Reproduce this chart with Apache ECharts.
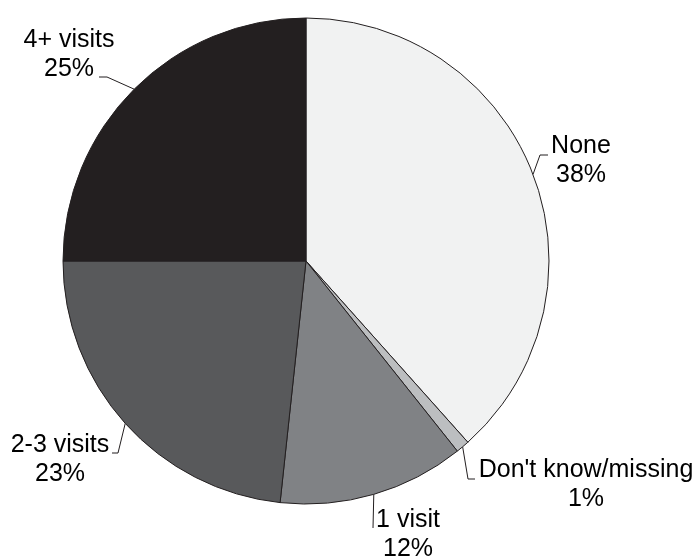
<!DOCTYPE html>
<html>
<head>
<meta charset="utf-8">
<script src="https://cdn.jsdelivr.net/npm/echarts@6/dist/echarts.min.js"></script>
<style>
  html, body { margin: 0; padding: 0; background: #ffffff; }
  #chart { width: 698px; height: 560px; }
</style>
</head>
<body>
<div id="chart"></div>
<script>
// Number of doctor visits, share of respondents (%)
const categories = ['None', "Don't know/missing", '1 visit', '2-3 visits', '4+ visits'];
const shares = [38.4, 0.9, 12.4, 23.3, 25.0];
const sliceColors = ['#f1f2f2', '#bcbec0', '#808285', '#58595b', '#231f20'];

// Label placement: text block centre and the elbow of each leader line
const labelSpots = [
  { x: 581, y: 161, line: [[540, 155], [548, 155]] },
  { x: 586, y: 485, line: [[468, 479], [475, 479]] },
  { x: 408, y: 535, line: [[373, 528]] },
  { x: 60,  y: 460, line: [[118, 453], [112, 453]] },
  { x: 69,  y: 55,  line: [[107, 77], [99, 77]] }
];

const chart = echarts.init(document.getElementById('chart'), null, { renderer: 'canvas' });

chart.setOption({
  backgroundColor: '#ffffff',
  animation: false,
  series: [{
    type: 'pie',
    center: [306, 261],
    radius: 243,
    startAngle: 90,
    clockwise: true,
    avoidLabelOverlap: false,
    data: categories.map((name, i) => ({
      name: name,
      value: shares[i],
      itemStyle: { color: sliceColors[i] }
    })),
    itemStyle: { borderColor: '#231f20', borderWidth: 1 },
    emphasis: { disabled: true },
    label: {
      show: true,
      position: 'outside',
      formatter: p => p.name + '\n' + Math.round(p.value) + '%',
      fontFamily: '"Liberation Sans", Arial, sans-serif',
      fontSize: 25,
      lineHeight: 29,
      color: '#000000',
      align: 'center'
    },
    labelLine: {
      show: true,
      lineStyle: { color: '#231f20', width: 1 }
    },
    labelLayout: function (params) {
      const spot = labelSpots[params.dataIndex];
      const start = params.labelLinePoints ? params.labelLinePoints[0] : null;
      const res = { x: spot.x, y: spot.y, align: 'center', verticalAlign: 'middle' };
      if (start) {
        res.labelLinePoints = [start].concat(spot.line);
      }
      return res;
    }
  }]
});
</script>
</body>
</html>
